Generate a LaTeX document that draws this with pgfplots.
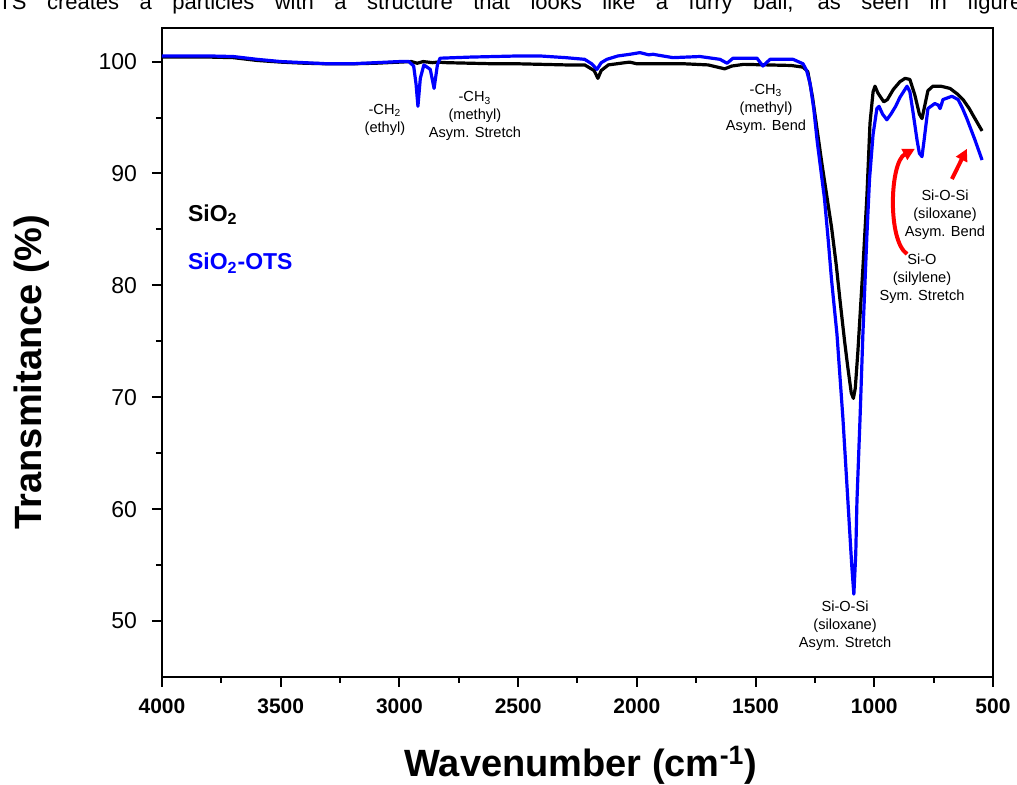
\documentclass[border=0pt]{standalone}
\usepackage{pgfplots}
\pgfplotsset{compat=1.18}
\usepackage{fontspec}
\setmainfont{Liberation Sans}
\usetikzlibrary{arrows.meta}

\pgfplotstableread{
x y
4000 100.4
3800 100.4
3700 100.35
3600 100.1
3500 99.95
3400 99.85
3300 99.8
3200 99.8
3100 99.85
3000 99.95
2950 100.0
2925 99.85
2900 100.0
2860 99.9
2840 99.95
2800 99.9
2700 99.85
2600 99.8
2500 99.8
2400 99.75
2300 99.7
2220 99.7
2180 99.2
2164 98.5
2150 99.2
2120 99.7
2050 99.9
2030 99.95
2000 99.8
1900 99.8
1800 99.8
1700 99.7
1660 99.5
1630 99.35
1600 99.6
1550 99.75
1450 99.7
1350 99.65
1300 99.5
1280 99.1
1260 96.8
1240 93.8
1220 90.8
1200 88.0
1180 85.2
1160 81.8
1144 78.6
1125 75.0
1111 72.6
1097 70.4
1088 69.9
1080 70.8
1069 74.1
1048 81.5
1031 88.0
1018 94.5
1005 97.3
997 97.8
985 97.2
960 96.4
945 96.6
920 97.5
892 98.2
870 98.5
850 98.4
829 97.0
810 95.3
799 94.9
785 96.3
774 97.4
753 97.8
720 97.8
681 97.6
650 97.1
626 96.6
600 95.8
584 95.2
546 93.8
}\sio

\pgfplotstableread{
x y
4000 100.5
3800 100.5
3700 100.45
3600 100.2
3500 100.0
3400 99.9
3300 99.8
3200 99.8
3100 99.9
3000 100.0
2960 100.0
2940 99.6
2930 98.0
2922 96.0
2912 98.5
2897 99.7
2870 99.3
2854 97.6
2840 99.7
2829 100.3
2700 100.4
2600 100.45
2500 100.5
2408 100.5
2300 100.35
2220 100.2
2190 99.8
2168 99.3
2150 99.9
2126 100.2
2080 100.5
2029 100.65
1987 100.8
1950 100.6
1932 100.65
1848 100.35
1734 100.45
1650 100.2
1620 99.85
1595 100.3
1494 100.3
1469 99.6
1439 100.2
1342 100.2
1300 99.8
1285 99.2
1270 98.0
1255 95.8
1240 92.8
1225 90.3
1210 87.8
1195 84.3
1180 80.5
1157 75.6
1132 68.1
1111 60.7
1095 55.0
1086 52.4
1078 56.0
1073 60.7
1060 68.1
1048 75.6
1031 84.5
1020 89.5
1005 93.5
989 95.8
980 96.0
965 95.3
947 94.8
930 95.3
910 96.0
892 96.8
862 97.8
850 97.3
837 95.5
820 93.0
810 91.8
799 91.5
790 93.0
774 95.8
745 96.25
730 96.1
723 95.8
715 96.3
711 96.6
673 96.9
647 96.6
630 95.9
610 94.9
576 93.0
546 91.2
}\ots

\begin{document}
\begin{tikzpicture}
\useasboundingbox (-81pt,-54pt) rectangle (427.5pt,338.5pt);
\begin{scope}
\clip (-81pt,-54pt) rectangle (427.5pt,338.5pt);
\node[anchor=base west, inner sep=0pt, font=\fontsize{11}{13}\selectfont] at (-82pt,333.5pt)
  {\makebox[512pt][s]{TS creates a particles with a structure that looks like a furry ball, as seen in figure}};
\end{scope}
\begin{axis}[
  at={(0pt,0pt)}, anchor=south west,
  scale only axis, width=415.5pt, height=324.5pt,
  xmin=500, xmax=4000, x dir=reverse,
  ymin=45, ymax=103,
  xtick={500,1000,...,4000}, ytick={50,60,...,100},
  minor x tick num=1, minor y tick num=1,
  tick align=outside, xtick pos=bottom, ytick pos=left,
  major tick length=5pt, minor tick length=3pt,
  axis line style={line width=1.3pt},
  every tick/.style={black, line width=1pt},
  /pgf/number format/assume math mode=true,
  /pgf/number format/1000 sep={},
  x tick label style={font=\bfseries\fontsize{10.5}{12}\selectfont, yshift=-2.5pt},
  y tick label style={font=\fontsize{11.5}{13}\selectfont, xshift=-4pt},
  xlabel={Wavenumber (cm\textsuperscript{-1})},
  ylabel={Transmitance (\%)},
  xlabel style={font=\bfseries\fontsize{19}{23}\selectfont, at={(axis description cs:0.504,-0.136)}, anchor=center},
  ylabel style={font=\bfseries\fontsize{19}{23}\selectfont, at={(axis description cs:-0.1564,0.47)}, anchor=center},
  clip=false,
]
\addplot[black, line width=1.6pt, line join=round] table[x=x,y=y] {\sio};
\addplot[blue, line width=1.6pt, line join=round] table[x=x,y=y] {\ots};

\node[anchor=west, font=\bfseries\fontsize{11.5}{13}\selectfont, black] at (axis cs:3920,86.3) {SiO\textsubscript{2}};
\node[anchor=west, font=\bfseries\fontsize{11.5}{13}\selectfont, blue] at (axis cs:3920,82.0) {SiO\textsubscript{2}-OTS};

\begin{scope}[every node/.style={align=center, font=\fontsize{7.3}{9}\selectfont, inner sep=0pt}]
\node at (axis cs:3061,94.8) {-CH\textsubscript{2}\\(ethyl)};
\node at (axis cs:2682,95.1) {-CH\textsubscript{3}\\(methyl)\\Asym. Stretch};
\node at (axis cs:1456,95.8) {-CH\textsubscript{3}\\(methyl)\\Asym. Bend};
\node at (axis cs:1123,49.6) {Si-O-Si\\(siloxane)\\Asym. Stretch};
\node at (axis cs:799,80.6) {Si-O\\(silylene)\\Sym. Stretch};
\node at (axis cs:702,86.3) {Si-O-Si\\(siloxane)\\Asym. Bend};
\end{scope}

\draw[red, line width=2pt, -{Triangle[length=6pt,width=6pt]}]
  (axis cs:862,82.8) .. controls (axis cs:945,84) and (axis cs:935,91) .. (axis cs:829,92.2);
\draw[red, line width=2pt, -{Triangle[length=6pt,width=6pt]}]
  (axis cs:673,89.5) -- (axis cs:610,92.2);
\end{axis}
\end{tikzpicture}
\end{document}
